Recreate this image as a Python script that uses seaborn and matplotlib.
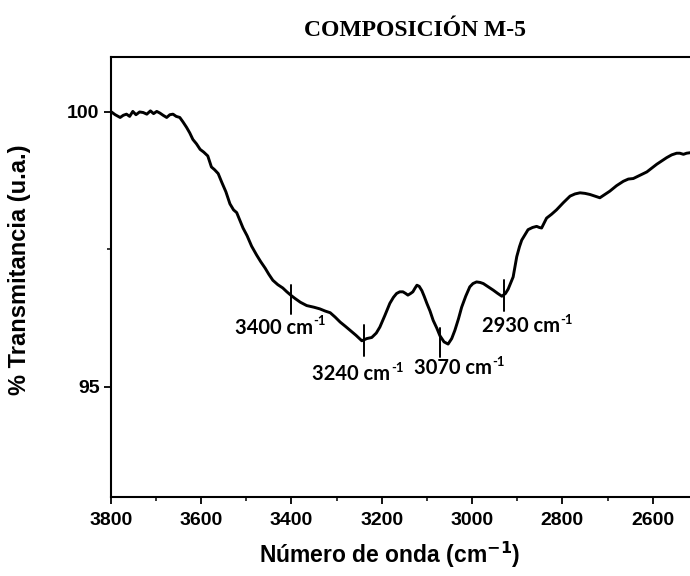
import matplotlib
matplotlib.use("Agg")
import matplotlib.pyplot as plt
from matplotlib.ticker import MultipleLocator
import numpy as np
import pandas as pd
import seaborn as sns

# FTIR spectrum, wavenumber (cm-1) vs transmittance (%)
wavenumber = [
    3800, 3790, 3779, 3772, 3765, 3758, 3751, 3744, 3736, 3728, 3720, 3712,
    3705, 3698, 3691, 3684, 3676, 3669, 3662, 3655, 3647, 3640, 3632, 3625,
    3618, 3610, 3602, 3594, 3585, 3577, 3570, 3562, 3554, 3545, 3536, 3528,
    3521, 3514, 3507, 3498, 3488, 3477, 3468, 3458, 3450, 3441, 3430, 3419,
    3410, 3400, 3392, 3380, 3366, 3350, 3337, 3325, 3314, 3303, 3292, 3280,
    3270, 3257, 3244, 3233, 3222, 3212, 3204, 3193, 3182, 3174, 3167, 3160,
    3153, 3147, 3142, 3136, 3131, 3126, 3122, 3117, 3111, 3106, 3100, 3093,
    3086, 3078, 3071, 3062, 3053, 3045, 3038, 3030, 3023, 3014, 3005, 2998,
    2990, 2982, 2975, 2964, 2953, 2943, 2934, 2926, 2920, 2909, 2901, 2895,
    2890, 2882, 2876, 2866, 2857, 2851, 2846, 2835, 2824, 2813, 2798, 2783,
    2772, 2761, 2750, 2739, 2728, 2717, 2706, 2695, 2680, 2665, 2654, 2643,
    2628, 2613, 2602, 2591, 2580, 2569, 2558, 2547, 2540, 2532, 2525, 2517,
    2505,
]
transmittance = [
    100.01, 99.95, 99.90, 99.94, 99.96, 99.92, 100.01, 99.95, 100.00, 99.99,
    99.96, 100.02, 99.97, 100.01, 99.98, 99.94, 99.90, 99.95, 99.96, 99.92,
    99.90, 99.82, 99.72, 99.62, 99.50, 99.42, 99.32, 99.27, 99.20, 99.00,
    98.95, 98.88, 98.72, 98.55, 98.33, 98.22, 98.17, 98.03, 97.89, 97.75,
    97.56, 97.40, 97.28, 97.16, 97.05, 96.94, 96.86, 96.80, 96.73, 96.66,
    96.61, 96.54, 96.48, 96.45, 96.42, 96.38, 96.35, 96.27, 96.18, 96.10,
    96.03, 95.94, 95.84, 95.88, 95.90, 95.98, 96.09, 96.30, 96.52, 96.63,
    96.70, 96.73, 96.73, 96.70, 96.67, 96.70, 96.73, 96.80, 96.85, 96.83,
    96.75, 96.65, 96.52, 96.38, 96.21, 96.07, 95.93, 95.82, 95.78, 95.88,
    96.03, 96.24, 96.45, 96.65, 96.82, 96.88, 96.91, 96.90, 96.88, 96.82,
    96.76, 96.70, 96.65, 96.70, 96.78, 97.00, 97.37, 97.55, 97.67, 97.78,
    97.86, 97.90, 97.92, 97.90, 97.89, 98.07, 98.14, 98.22, 98.35, 98.47,
    98.51, 98.53, 98.52, 98.50, 98.47, 98.44, 98.50, 98.56, 98.66, 98.74,
    98.78, 98.79, 98.85, 98.91, 98.98, 99.05, 99.11, 99.17, 99.22, 99.25,
    99.25, 99.23, 99.25, 99.26, 99.27,
]

# Assigned bands: position, marker span (low, high), label anchor
band_positions = [3400, 3240, 3070, 2930]
band_low = [96.33, 95.57, 95.54, 96.39]
band_high = [96.85, 96.12, 96.08, 96.94]
band_label_x = [3430, 3259, 3034, 2883]
band_label_y = [96.08, 95.24, 95.34, 96.10]

x_ticks = [3800, 3600, 3400, 3200, 3000, 2800, 2600]
y_ticks = [95, 100]

df = pd.DataFrame({"wn": wavenumber, "T": transmittance})

sns.set_theme(style="ticks")
plt.rcParams["font.family"] = ["Liberation Sans", "DejaVu Sans"]
plt.rcParams["text.color"] = "black"
plt.rcParams["axes.labelcolor"] = "black"
plt.rcParams["xtick.color"] = "black"
plt.rcParams["ytick.color"] = "black"

fig = plt.figure(figsize=(6.9, 5.76), dpi=100)
ax = fig.add_axes([0.1604, 0.1372, 0.9165, 0.7639])

sns.lineplot(data=df, x="wn", y="T", ax=ax, color="black", linewidth=2.1,
             estimator=None, sort=False)

band_font = ["Lato", "DejaVu Sans"]
for xb, lo, hi, lx, ly in zip(band_positions, band_low, band_high,
                              band_label_x, band_label_y):
    ax.plot([xb, xb], [lo, hi], color="black", linewidth=1.4)
    ax.annotate(f"{xb} cm", (lx, ly), xytext=(25, 0),
                textcoords="offset points", ha="right", va="center",
                fontsize=14.5, fontweight="bold", family=band_font)
    ax.annotate("-1", (lx, ly), xytext=(25.8, 4.5),
                textcoords="offset points", ha="left", va="center",
                fontsize=9.5, fontweight="bold", family=band_font)

ax.set_xlim(3800, 2400)
ax.set_ylim(93, 101)
ax.set_xticks(x_ticks)
ax.set_yticks(y_ticks)
ax.xaxis.set_minor_locator(MultipleLocator(100))
ax.yaxis.set_minor_locator(MultipleLocator(2.5))

ax.tick_params(axis="both", which="major", direction="out", length=5,
               width=1.3, labelsize=14, colors="black")
ax.tick_params(axis="x", which="major", pad=6)
ax.tick_params(axis="y", which="major", pad=3)
ax.tick_params(axis="both", which="minor", direction="out", length=3,
               width=1.1, colors="black")
for lbl in ax.get_xticklabels() + ax.get_yticklabels():
    lbl.set_fontweight("bold")

for side in ["left", "bottom", "top", "right"]:
    ax.spines[side].set_visible(True)
    ax.spines[side].set_linewidth(1.5)
    ax.spines[side].set_color("black")

ax.set_xlabel("Número de onda (cm$^{\\mathbf{-1}}$)", fontsize=16.5,
              fontweight="bold")
ax.set_ylabel("% Transmitancia (u.a.)", fontsize=17, fontweight="bold")
ax.xaxis.set_label_coords((390 - 110.7) / (0.9165 * 690), -0.098)
ax.yaxis.set_label_coords(-0.126, 0.516)

fig.text(415 / 690, 1 - 30 / 576, "COMPOSICIÓN M-5", ha="center",
         va="center", fontsize=17, fontweight="bold",
         family=["Liberation Serif", "DejaVu Serif"])

fig.savefig("out.png", dpi=100)
